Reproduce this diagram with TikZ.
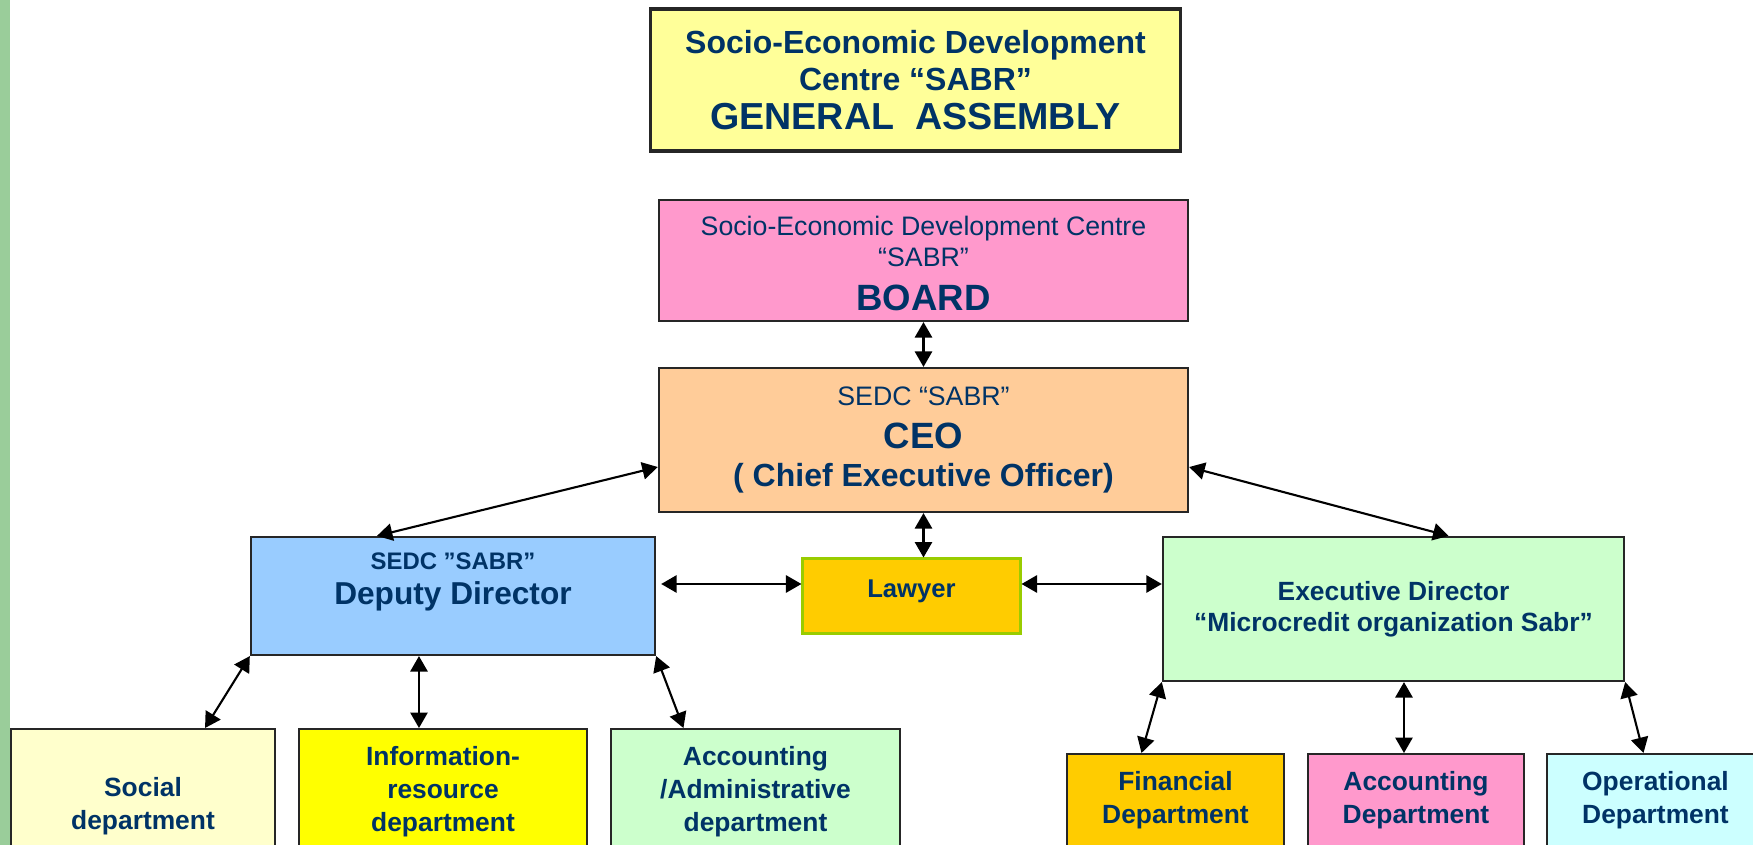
\documentclass[tikz,border=0pt]{standalone}
\usepackage{fontspec}
\setmainfont{Liberation Sans}
\usetikzlibrary{arrows.meta}
\definecolor{sabrtext}{HTML}{003366}
\definecolor{sidebar}{HTML}{9ACD9A}
\definecolor{gafill}{HTML}{FFFF99}
\definecolor{boardfill}{HTML}{FF99CC}
\definecolor{ceofill}{HTML}{FFCC99}
\definecolor{deputyfill}{HTML}{99CCFF}
\definecolor{lawyerfill}{HTML}{FFCC00}
\definecolor{lawyerline}{HTML}{99CC00}
\definecolor{execfill}{HTML}{CCFFCC}
\definecolor{socialfill}{HTML}{FFFFCC}
\definecolor{infofill}{HTML}{FFFF00}
\definecolor{operfill}{HTML}{CCFFFF}
\tikzset{ unit/.style = { rectangle % org unit
        , draw = black!85
        , line width = 0.6pt
        , align = center
        , text = sabrtext
        , inner sep = 0pt
        }
        , dept/.style = { unit % bottom row department
        , anchor = north
        , font = \bfseries\fontsize{7.5}{9.4}\selectfont
        }
        }

\begin{document}
\begin{tikzpicture}[x=0.01cm, y=-0.01cm,
        edge_style/.style={draw=black, line width=0.6pt,
          {Triangle[length=4.4pt,width=4.9pt]}-{Triangle[length=4.4pt,width=4.9pt]}}]
        \useasboundingbox (0,0) rectangle (1753,845);
        \clip (0,0) rectangle (1753,845);
        \fill [sidebar] (0,0) rectangle (10,845);

        \node [unit, fill=gafill, line width=0.9pt, minimum width=5.29cm, minimum height=1.42cm,
          font=\bfseries\fontsize{9.1}{10.6}\selectfont] (ga) at (915.5,80)
          {Socio-Economic Development\\Centre “SABR”\\[0.6pt]{\fontsize{10.7}{12}\selectfont GENERAL\ \ ASSEMBLY}};
        \node [unit, fill=boardfill, minimum width=5.29cm, minimum height=1.21cm,
          font=\fontsize{7.6}{8.8}\selectfont, text height=28.4pt] (board) at (923.5,260.5)
          {Socio-Economic Development Centre\\“SABR”\\[3.6pt]{\bfseries\fontsize{10.4}{12}\selectfont BOARD}};
        \node [unit, fill=ceofill, minimum width=5.29cm, minimum height=1.44cm,
          font=\fontsize{7.6}{10.7}\selectfont] (ceo) at (923.5,440)
          {SEDC “SABR”\\[1.4pt]{\bfseries\fontsize{10.4}{12}\selectfont CEO}\\{\bfseries\fontsize{9.1}{11}\selectfont ( Chief Executive Officer)}};
        \node [unit, fill=deputyfill, minimum width=4.04cm, minimum height=1.18cm,
          font=\bfseries\fontsize{6.8}{10}\selectfont] (deputy) at (453,596)
          {SEDC ”SABR”\\{\fontsize{9}{11}\selectfont Deputy Director}\\~};
        \node [unit, fill=lawyerfill, draw=lawyerline, line width=0.85pt, minimum width=2.17cm, minimum height=0.74cm,
          font=\bfseries\fontsize{7.3}{8.8}\selectfont, text height=5.2pt, text depth=4.3pt] (lawyer) at (911.5,596) {Lawyer};
        \node [unit, fill=execfill, minimum width=4.61cm, minimum height=1.44cm,
          font=\bfseries\fontsize{7.5}{8.8}\selectfont] (exec) at (1393.5,609)
          {Executive Director\\“Microcredit organization Sabr”};

        \node [dept, fill=socialfill, minimum width=2.64cm, minimum height=1.55cm] (social) at (143,728)
          {Social\\department};
        \node [dept, fill=infofill, minimum width=2.88cm, minimum height=1.52cm] (info) at (443,728)
          {Information-\\resource\\department\\~};
        \node [dept, fill=execfill, minimum width=2.89cm, minimum height=1.52cm] (admin) at (755.5,728)
          {Accounting\\/Administrative\\department\\~};
        \node [dept, fill=lawyerfill, minimum width=2.17cm, minimum height=1.19cm] (fin) at (1175.5,753)
          {Financial\\Department\\~};
        \node [dept, fill=boardfill, minimum width=2.16cm, minimum height=1.19cm] (acc) at (1416,753)
          {Accounting\\Department\\~};
        \node [dept, fill=operfill, minimum width=2.17cm, minimum height=1.19cm] (oper) at (1655.5,753)
          {Operational\\Department\\~};

        \draw [edge_style] (board) -- (ceo);
        \draw [edge_style] (ceo.south) -- (ceo.south |- lawyer.north);
        \draw [edge_style] ([yshift=-0.27cm]ceo.west) -- ([xshift=-0.76cm]deputy.north);
        \draw [edge_style] ([yshift=-0.27cm]ceo.east) -- ([xshift=0.55cm]exec.north);
        \draw [edge_style] ([xshift=0.05cm,yshift=0.12cm]deputy.east) -- ([yshift=0.12cm]lawyer.west);
        \draw [edge_style] ([yshift=0.12cm]lawyer.east) -- ([yshift=0.12cm]lawyer.east -| exec.west);
        \draw [edge_style] (deputy.south west) -- ([xshift=0.62cm]social.north);
        \draw [edge_style] ([xshift=-0.24cm]info.north) -- ([xshift=-0.24cm]info.north |- deputy.south);
        \draw [edge_style] (deputy.south east) -- ([xshift=-0.72cm]admin.north);
        \draw [edge_style] (exec.south west) -- ([xshift=-0.34cm]fin.north);
        \draw [edge_style] ([xshift=-0.12cm]acc.north) -- ([xshift=-0.12cm]acc.north |- exec.south);
        \draw [edge_style] (exec.south east) -- ([xshift=-0.12cm]oper.north);
\end{tikzpicture}
\end{document}
